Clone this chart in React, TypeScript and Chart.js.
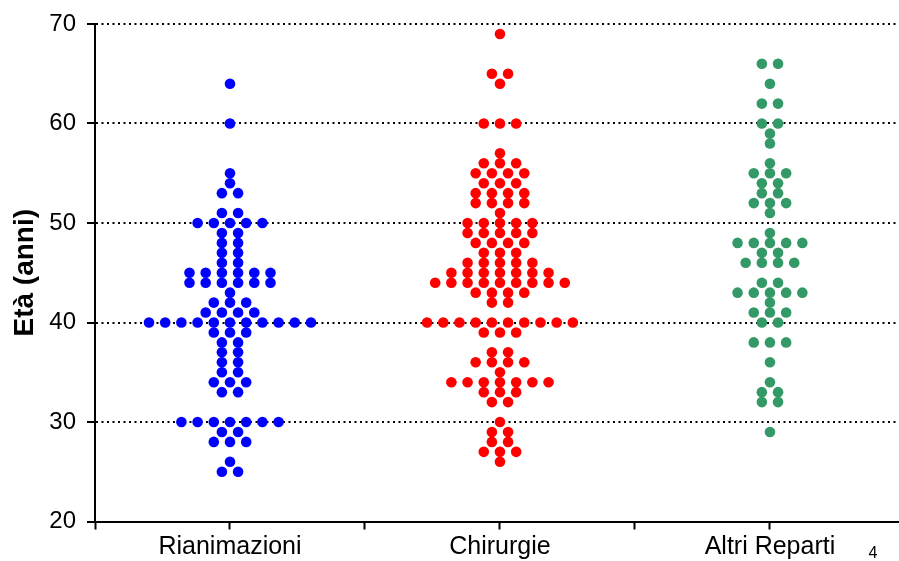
import React, { useEffect, useRef } from "react";
import { Chart, registerables } from "chart.js";

Chart.register(...registerables);

// ---- Data ----
const categories = ["Rianimazioni", "Chirurgie", "Altri Reparti"];

const rianimazioniAges = [64, 60, 55, 54, 53, 51, 50, 49, 48, 47, 46, 45, 44, 43, 42, 41, 40, 39, 38, 37, 36, 35, 34, 33, 30, 29, 28, 26, 25];
const rianimazioniCounts = [1, 1, 1, 1, 2, 2, 5, 2, 2, 2, 2, 6, 6, 1, 3, 4, 11, 3, 2, 2, 2, 2, 3, 2, 7, 2, 3, 1, 2];

const chirurgieAges = [69, 65, 64, 60, 57, 56, 55, 54, 53, 52, 51, 50, 49, 48, 47, 46, 45, 44, 43, 42, 40, 39, 37, 36, 35, 34, 33, 32, 30, 29, 28, 27, 26];
const chirurgieCounts = [1, 2, 1, 3, 1, 3, 4, 3, 4, 4, 1, 5, 5, 4, 3, 5, 7, 9, 4, 2, 10, 3, 2, 4, 1, 7, 3, 2, 1, 2, 2, 3, 1];

const altriAges = [66, 64, 62, 60, 59, 58, 56, 55, 54, 53, 52, 51, 49, 48, 47, 46, 44, 43, 42, 41, 40, 38, 36, 34, 33, 32, 29];
const altriCounts = [2, 1, 2, 2, 1, 1, 1, 3, 2, 2, 3, 1, 1, 5, 2, 4, 2, 5, 1, 3, 2, 3, 1, 1, 2, 2, 1];

const yTicks = [20, 30, 40, 50, 60, 70];
const colors = ["#0000FF", "#FF0000", "#339966"];

// ---- Layout helpers ----
const X_MAX = 2.978;
const DOT_STEP = 0.06; // horizontal spacing between dots in a row (x units)

function swarm(ages: number[], counts: number[], group: number) {
  const pts: { x: number; y: number }[] = [];
  ages.forEach((age, i) => {
    const n = counts[i];
    for (let k = 0; k < n; k++) {
      pts.push({ x: group + 0.5 + (k - (n - 1) / 2) * DOT_STEP, y: age });
    }
  });
  return pts;
}

const pageNumber = {
  id: "pageNumber",
  afterDraw(chart: any) {
    const ctx = chart.ctx;
    ctx.save();
    ctx.fillStyle = "#000";
    ctx.font = "16px 'Liberation Sans', Arial, sans-serif";
    ctx.textAlign = "center";
    ctx.textBaseline = "alphabetic";
    ctx.fillText("4", 873, 558);
    ctx.restore();
  },
};

export default function App() {
  const ref = useRef<HTMLCanvasElement | null>(null);

  useEffect(() => {
    if (!ref.current) return;
    const groups = [
      swarm(rianimazioniAges, rianimazioniCounts, 0),
      swarm(chirurgieAges, chirurgieCounts, 1),
      swarm(altriAges, altriCounts, 2),
    ];
    const chart = new Chart(ref.current, {
      type: "scatter",
      data: {
        datasets: groups.map((data, i) => ({
          label: categories[i],
          data,
          backgroundColor: colors[i],
          borderWidth: 0,
          pointRadius: 5.3,
          pointHoverRadius: 5.3,
        })),
      },
      options: {
        animation: false,
        responsive: false,
        devicePixelRatio: 1,
        layout: { autoPadding: false, padding: { top: 24, left: 0, right: 0, bottom: 0 } },
        plugins: { legend: { display: false }, tooltip: { enabled: false } },
        scales: {
          x: {
            type: "linear",
            min: 0,
            max: X_MAX,
            afterBuildTicks: (s: any) => {
              s.ticks = [0, 0.5, 1, 1.5, 2, 2.5].map((v) => ({ value: v }));
            },
            afterFit: (s: any) => {
              s.height = 39.5;
              s.paddingLeft = 0;
              s.paddingRight = 0;
            },
            ticks: {
              autoSkip: false,
              maxRotation: 0,
              minRotation: 0,
              padding: 3,
              color: "#000",
              font: { family: "'Liberation Sans', Arial, sans-serif", size: 25 },
              callback: (v: any) => {
                const i = Math.round(Number(v) - 0.5);
                return Math.abs(Number(v) - (i + 0.5)) < 1e-6 && categories[i] ? categories[i] : "";
              },
            },
            grid: {
              drawOnChartArea: false,
              drawTicks: true,
              tickLength: 8,
              tickWidth: 2,
              tickColor: "#000",
            },
            border: { display: true, color: "#000", width: 2 },
          },
          y: {
            type: "linear",
            min: 20,
            max: 70,
            afterBuildTicks: (s: any) => {
              s.ticks = yTicks.map((v) => ({ value: v }));
            },
            afterFit: (s: any) => {
              s.width = 95;
              s.paddingTop = 0;
              s.paddingBottom = 0;
            },
            ticks: {
              padding: 11,
              color: "#000",
              font: { family: "'Liberation Sans', Arial, sans-serif", size: 24 },
            },
            grid: {
              color: (c: any) => (c.tick && c.tick.value === 20 ? "rgba(0,0,0,0)" : "#000"),
              lineWidth: 2,
              drawTicks: true,
              tickLength: 8,
              tickWidth: 2,
              tickColor: "#000",
            },
            border: { display: true, color: "#000", width: 2, dash: [2, 3.5] },
            title: {
              display: true,
              text: "Età (anni)",
              color: "#000",
              padding: { top: 8, bottom: 0 },
              font: { family: "'Liberation Sans', Arial, sans-serif", size: 28, weight: "bold" },
            },
          },
        },
      },
      plugins: [pageNumber],
    });
    return () => chart.destroy();
  }, []);

  return (
    <div style={{ position: "absolute", left: 0, top: 0, width: 899, height: 561, background: "#fff" }}>
      <canvas ref={ref} width={899} height={561} style={{ display: "block" }} />
    </div>
  );
}
